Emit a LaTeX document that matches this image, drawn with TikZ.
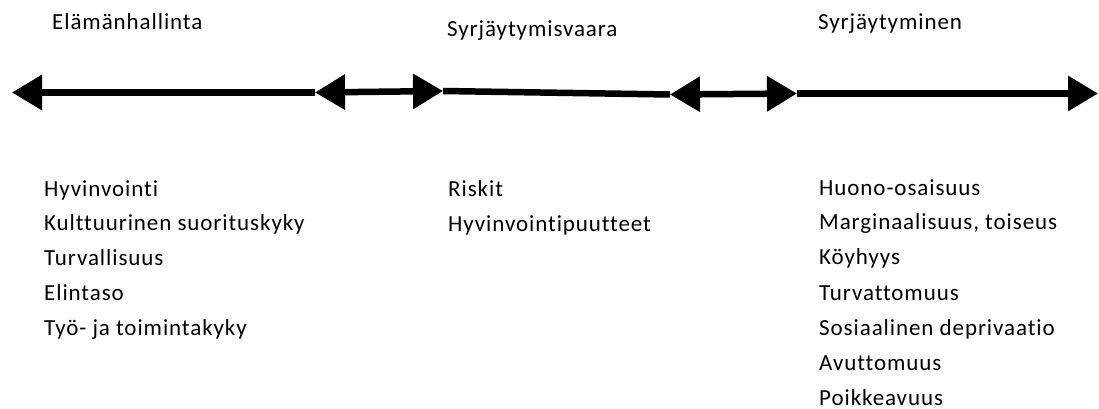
\documentclass[tikz,border=0pt]{standalone}
\usepackage{fontspec}
\setmainfont{Carlito}[LetterSpace=4,Ligatures=NoCommon]
\usetikzlibrary{arrows.meta}
\tikzset{
  axisline/.style={line width=6.5pt},
  bighead/.tip={Triangle[length=30pt,width=34pt]},
  itemtext/.style={anchor=base west,inner sep=0pt,font=\fontsize{23}{27}\selectfont}
}
\newcommand{\itemat}[4]{%
\node[itemtext] (#3) at (#1,#2) {#4};
}

\begin{document}
\begin{tikzpicture}[x=1pt,y=-1pt]
\useasboundingbox (0,0) rectangle (1099,409);

% arrow ends along the axis
\coordinate (westEnd) at (12,92.5);
\coordinate (leftA) at (315,92.5);
\coordinate (leftB) at (443,91);
\coordinate (rightA) at (670,94.5);
\coordinate (rightB) at (797,93.5);
\coordinate (eastEnd) at (1098,93.5);

\draw[axisline,-bighead] (leftA) -- (westEnd);
\draw[axisline,bighead-bighead] (leftA) -- (leftB);
\draw[axisline] (leftB) -- (rightA);
\draw[axisline,bighead-bighead] (rightA) -- (rightB);
\draw[axisline,-bighead] (rightB) -- (eastEnd);

% headings
\itemat{52}{30}{hdrWest}{Elämänhallinta}
\itemat{447}{37}{hdrMid}{Syrjäytymisvaara}
\itemat{818}{30}{hdrEast}{Syrjäytyminen}

% left column
\itemat{44}{196}{w1}{Hyvinvointi}
\itemat{44}{230.5}{w2}{Kulttuurinen suorituskyky}
\itemat{44}{265}{w3}{Turvallisuus}
\itemat{44}{300}{w4}{Elintaso}
\itemat{44}{335}{w5}{Työ- ja toimintakyky}

% middle column
\itemat{448}{196}{m1}{Riskit}
\itemat{448}{231}{m2}{Hyvinvointipuutteet}

% right column
\itemat{819}{195}{e1}{Huono-osaisuus}
\itemat{819}{229.5}{e2}{Marginaalisuus, toiseus}
\itemat{819}{264.5}{e3}{Köyhyys}
\itemat{819}{300}{e4}{Turvattomuus}
\itemat{819}{335.5}{e5}{Sosiaalinen deprivaatio}
\itemat{819}{370.5}{e6}{Avuttomuus}
\itemat{819}{405}{e7}{Poikkeavuus}

\end{tikzpicture}
\end{document}
